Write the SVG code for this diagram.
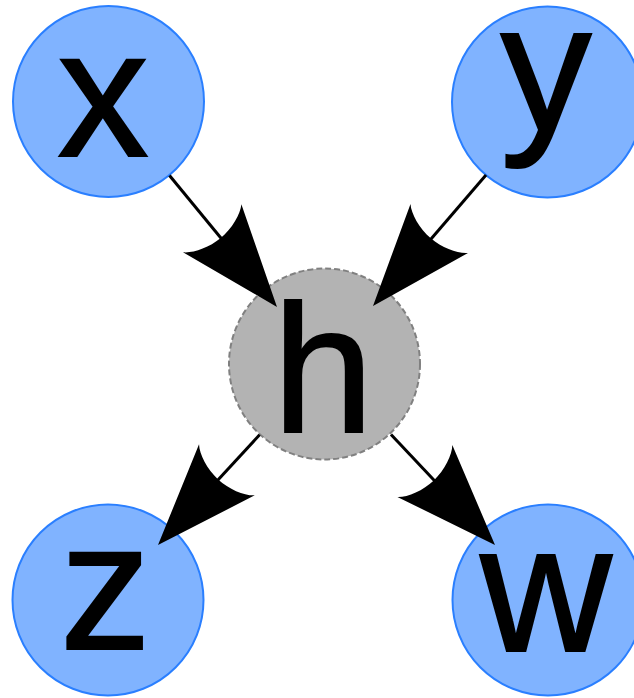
<svg xmlns="http://www.w3.org/2000/svg" xmlns:xlink="http://www.w3.org/1999/xlink" width="634" height="698" viewBox="0 0 634 698">
<style>
.obs{fill:#80b3ff;stroke:#2a7fff;stroke-width:2}
.hid{fill:#b3b3b3;stroke:#808080;stroke-width:2;stroke-dasharray:6,3}
.lbl{font-family:"Liberation Sans",Arial,sans-serif;font-size:182px;fill:#000;stroke:#000;stroke-width:2;text-anchor:middle}
.edge{stroke:#000;stroke-width:3;fill:none}
.head{fill:#000}
</style>
<defs>
<path id="ah" class="head" d="M0,0 L-102,37.8 C-95,31 -89,15 -89,0 C-89,-15 -95,-31 -102,-37.8 Z"/>
</defs>
<rect width="634" height="698" fill="#fff"/>
<g id="node-x">
<circle class="obs" cx="108.5" cy="101.5" r="95.5"/>
<text class="lbl" x="103" y="156">x</text>
</g>
<g id="node-y">
<circle class="obs" cx="547.5" cy="102" r="95.5"/>
<text class="lbl" x="546" y="130">y</text>
</g>
<g id="node-h">
<circle class="hid" cx="324.5" cy="364" r="95.5"/>
<text class="lbl" x="323" y="432">h</text>
</g>
<g id="node-z">
<circle class="obs" cx="108" cy="600" r="95.5"/>
<text class="lbl" x="105.5" y="649">z</text>
</g>
<g id="node-w">
<circle class="obs" cx="548" cy="600" r="95.5"/>
<text class="lbl" x="546" y="651">w</text>
</g>
<g id="connectors">
<line class="edge" x1="169.5" y1="175.5" x2="225" y2="243"/>
<use xlink:href="#ah" transform="translate(277,307) rotate(50.55)"/>
<line class="edge" x1="486" y1="175" x2="425" y2="246"/>
<use xlink:href="#ah" transform="translate(373,306) rotate(130.5)"/>
<line class="edge" x1="259.6" y1="434.8" x2="205" y2="494"/>
<use xlink:href="#ah" transform="translate(158,545) rotate(132.5)"/>
<line class="edge" x1="391" y1="434.5" x2="448" y2="495"/>
<use xlink:href="#ah" transform="translate(495,545) rotate(46.56)"/>
</g>
</svg>
